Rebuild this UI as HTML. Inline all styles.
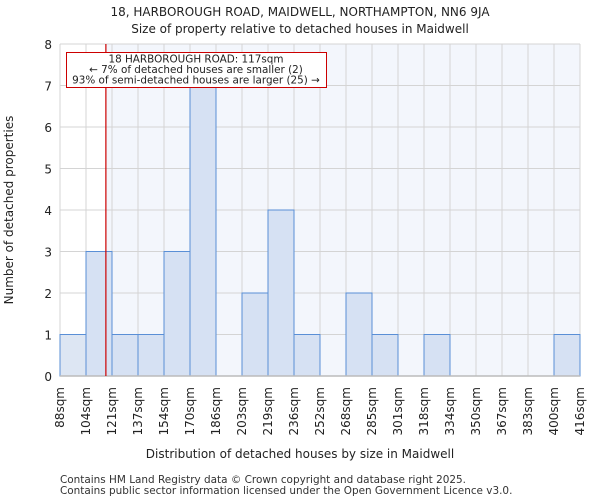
<!DOCTYPE html>
<html><head><meta charset="utf-8"><style>
body{margin:0;background:#fff;font-family:"DejaVu Sans","Liberation Sans",sans-serif;}
</style></head><body>
<svg id="c" width="600" height="500" xmlns="http://www.w3.org/2000/svg" font-family="DejaVu Sans, Liberation Sans, sans-serif">
<text x="300" y="16" text-anchor="middle" font-size="12" fill="#222">18, HARBOROUGH ROAD, MAIDWELL, NORTHAMPTON, NN6 9JA</text>
<text x="300" y="33" text-anchor="middle" font-size="12" fill="#222">Size of property relative to detached houses in Maidwell</text>
<g id="plot"></g>
<text x="300" y="458" text-anchor="middle" font-size="12" fill="#222">Distribution of detached houses by size in Maidwell</text>
<text transform="translate(13,210) rotate(-90)" text-anchor="middle" font-size="12" fill="#222">Number of detached properties</text>
<text x="60" y="483" font-size="10.45" fill="#333">Contains HM Land Registry data © Crown copyright and database right 2025.</text>
<text x="60" y="494" font-size="10.45" fill="#333">Contains public sector information licensed under the Open Government Licence v3.0.</text>
</svg>
<script>
const binLabels=["88sqm","104sqm","121sqm","137sqm","154sqm","170sqm","186sqm","203sqm","219sqm","236sqm","252sqm","268sqm","285sqm","301sqm","318sqm","334sqm","350sqm","367sqm","383sqm","400sqm","416sqm"];
const binEdges=[88,104,121,137,154,170,186,203,219,236,252,268,285,301,318,334,350,367,383,400,416];
const counts=[1,3,1,1,3,7,0,2,4,1,0,2,1,0,1,0,0,0,0,1];
const yTicks=[0,1,2,3,4,5,6,7,8];
const subjectSize=117;
const NS="http://www.w3.org/2000/svg";
const g=document.getElementById('plot');
const X0=60,X1=580,Y0=376,Y1=44;
const nb=counts.length;
const bw=(X1-X0)/nb;
function xi(i){return X0+i*bw;}
function xv(v){for(let i=0;i<binEdges.length-1;i++){if(v<=binEdges[i+1]){return xi(i)+bw*(v-binEdges[i])/(binEdges[i+1]-binEdges[i]);}}return X1;}
function y(v){return Y0-(Y0-Y1)*v/8;}
function mk(t,a){const e=document.createElementNS(NS,t);for(const k in a)e.setAttribute(k,a[k]);g.appendChild(e);return e;}
const rx=xv(subjectSize);
let e;
e=mk('rect',{x:rx,y:Y1,width:X1-rx,height:Y0-Y1,fill:'#f3f6fc'});


for(let i=0;i<=nb;i++){e=mk('line',{x1:xi(i),x2:xi(i),y1:Y1,y2:Y0,stroke:'#d4d4d4','stroke-width':1});

}
yTicks.forEach(t=>{e=mk('line',{x1:X0,x2:X1,y1:y(t),y2:y(t),stroke:'#d4d4d4','stroke-width':1});


const tx=mk('text',{x:X0-8,y:y(t)+5,'text-anchor':'end','font-size':12,fill:'#222'});tx.textContent=t;

});
counts.forEach((c,i)=>{if(c<=0)return;
const r=mk('rect',{x:xi(i),y:y(c),width:bw,height:y(0)-y(c),fill:(xi(i+1)<=rx?'#dde6f3':'#d6e1f3'),stroke:'#5a8fd6','stroke-width':1});

});
e=mk('line',{x1:X0,x2:X1,y1:Y0,y2:Y0,stroke:'#bbb','stroke-width':1.5});


binLabels.forEach((l,i)=>{const t=mk('text',{transform:`translate(${xi(i)+4},387) rotate(-90)`,'text-anchor':'end','font-size':12,fill:'#222'});t.textContent=l;

});
e=mk('line',{x1:rx,x2:rx,y1:Y1,y2:Y0,stroke:'#cc0000','stroke-width':1.2});


e=mk('rect',{x:66.5,y:52.5,width:260,height:35,fill:'#fff',stroke:'#cc0000','stroke-width':1});


["18 HARBOROUGH ROAD: 117sqm","← 7% of detached houses are smaller (2)","93% of semi-detached houses are larger (25) →"].forEach((s,k)=>{const t=mk('text',{x:196,y:62.5+k*10.5,'text-anchor':'middle','font-size':10.4,fill:'#222'});t.textContent=s;

});
</script>
</body></html>
